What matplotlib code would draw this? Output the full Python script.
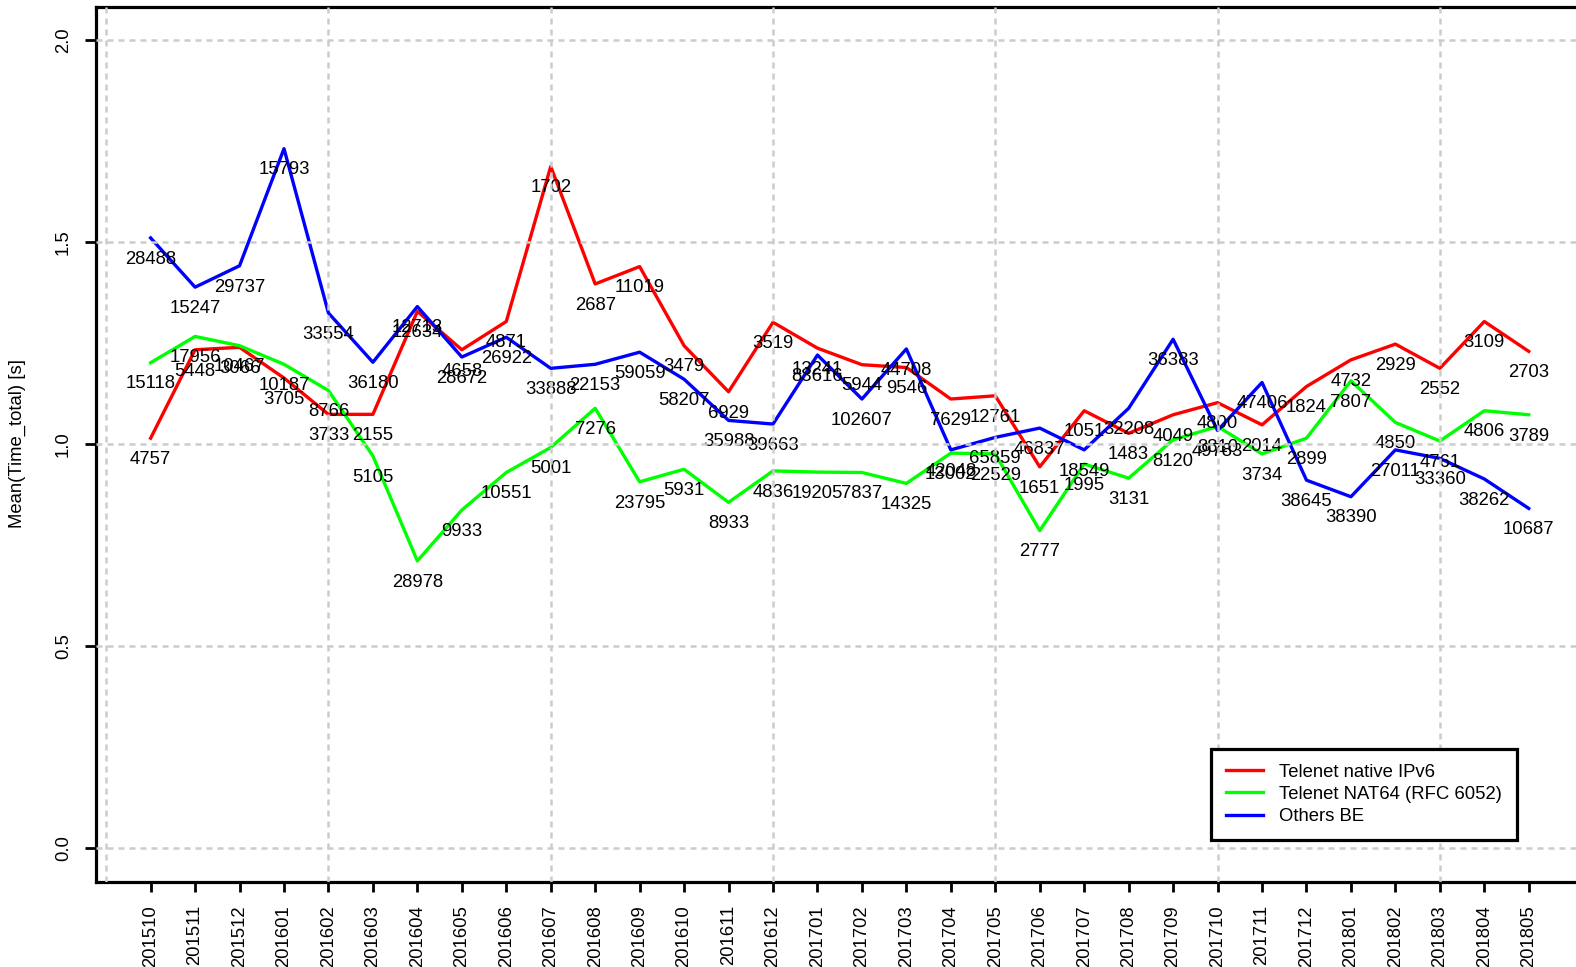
import matplotlib
matplotlib.use("Agg")
import matplotlib.pyplot as plt

plt.rcParams['font.family'] = ['Liberation Sans', 'DejaVu Sans']

MONTHS = ["201510", "201511", "201512", "201601", "201602", "201603", "201604", "201605",
          "201606", "201607", "201608", "201609", "201610", "201611", "201612", "201701",
          "201702", "201703", "201704", "201705", "201706", "201707", "201708", "201709",
          "201710", "201711", "201712", "201801", "201802", "201803", "201804", "201805"]

NATIVE_MEAN = [1.015, 1.234, 1.240, 1.164, 1.074, 1.074, 1.329, 1.234, 1.304, 1.688, 1.397,
               1.440, 1.244, 1.130, 1.302, 1.238, 1.197, 1.190, 1.112, 1.120, 0.944, 1.083,
               1.027, 1.073, 1.103, 1.048, 1.143, 1.209, 1.248, 1.188, 1.304, 1.230]
NAT64_MEAN = [1.202, 1.267, 1.244, 1.198, 1.133, 0.971, 0.711, 0.837, 0.930, 0.992, 1.089,
              0.907, 0.938, 0.856, 0.934, 0.931, 0.930, 0.903, 0.978, 0.976, 0.786, 0.951,
              0.916, 1.011, 1.044, 0.976, 1.015, 1.157, 1.054, 1.008, 1.083, 1.073]
OTHERS_MEAN = [1.511, 1.389, 1.442, 1.732, 1.325, 1.203, 1.341, 1.216, 1.265, 1.188, 1.198,
               1.228, 1.161, 1.059, 1.050, 1.221, 1.112, 1.236, 0.986, 1.017, 1.040, 0.986,
               1.089, 1.260, 1.034, 1.153, 0.911, 0.870, 0.986, 0.965, 0.914, 0.841]

NATIVE_N = [4757, 5448, 3066, 3705, 3733, 2155, 12634, 4658, 4871, 1702, 2687, 11019, 3479,
            6929, 3519, 13241, 5944, 9546, 7629, 12761, 1651, 1051, 1483, 4049, 4800, 2014,
            1824, 4732, 2929, 2552, 3109, 2703]
NAT64_N = [15118, 17956, 10467, 10187, 8766, 5105, 28978, 9933, 10551, 5001, 7276, 23795,
           5931, 8933, 4836, 19205, 7837, 14325, 13002, 22529, 2777, 1995, 3131, 8120, 8810,
           3734, 2899, 7807, 4850, 4761, 4806, 3789]
OTHERS_N = [28488, 15247, 29737, 15793, 33554, 36180, 12713, 28672, 26922, 33888, 22153,
            59059, 58207, 35988, 39663, 83616, 102607, 44708, 42048, 65859, 46837, 18549,
            32208, 36383, 49783, 47406, 38645, 38390, 27011, 33360, 38262, 10687]

SERIES = [("Telenet native IPv6", NATIVE_MEAN, NATIVE_N, "#ff0000"),
          ("Telenet NAT64 (RFC 6052)", NAT64_MEAN, NAT64_N, "#00ff00"),
          ("Others BE", OTHERS_MEAN, OTHERS_N, "#0000ff")]

FS = 13.3

fig = plt.figure(figsize=(15.76, 9.67), dpi=100)
ax = fig.add_axes([0.0606, 0.0884, 1.0050 - 0.0606, 0.9044])

x = list(range(len(MONTHS)))
handles = []
for name, means, counts, color in SERIES:
    h, = ax.plot(x, means, color=color, lw=2.4, label=name, zorder=2)
    handles.append(h)
for name, means, counts, color in SERIES:
    for i, (v, n) in enumerate(zip(means, counts)):
        ax.annotate(str(n), (i, v), xytext=(0, -15.3), textcoords="offset points",
                    ha="center", va="center", fontsize=FS, color="black", zorder=3)

# grid on top, like the original
grid_style = dict(color="#cccccc", lw=1.8, linestyle=(0, (2.4, 2.0)), zorder=5)
for gy in [0, 0.5, 1.0, 1.5, 2.0]:
    ax.axhline(gy, **grid_style)
for gx in [-1, 4, 9, 14, 19, 24, 29]:
    ax.axvline(gx, **grid_style)

ax.set_xlim(-1.24, 32.24)
ax.set_ylim(-0.083, 2.083)

ax.set_xticks(x)
ax.set_xticklabels(MONTHS, rotation=90, fontsize=FS)
ax.set_yticks([0, 0.5, 1.0, 1.5, 2.0])
ax.set_yticklabels(["0.0", "0.5", "1.0", "1.5", "2.0"], rotation=90, va="center", fontsize=FS)
ax.tick_params(axis="y", direction="out", length=8, width=2, pad=9)
ax.tick_params(axis="x", direction="out", length=7, width=2, pad=10)

for s in ax.spines.values():
    s.set_linewidth(2.3)
    s.set_color("black")

fig.text(17.5 / 1576, 0.541, "Mean(Time_total) [s]", rotation=90, ha="center", va="center",
         fontsize=FS)

leg = ax.legend(handles=handles, loc="upper left",
                bbox_to_anchor=(1211 / 1576, (967 - 749) / 967),
                bbox_transform=fig.transFigure, fontsize=FS, frameon=True, fancybox=False,
                edgecolor="black", framealpha=1, borderpad=0.8, handlelength=2.0,
                handletextpad=0.9, labelspacing=0.28, borderaxespad=0)
leg.get_frame().set_linewidth(2.3)
leg.set_zorder(6)

fig.savefig("out.png", dpi=100)
